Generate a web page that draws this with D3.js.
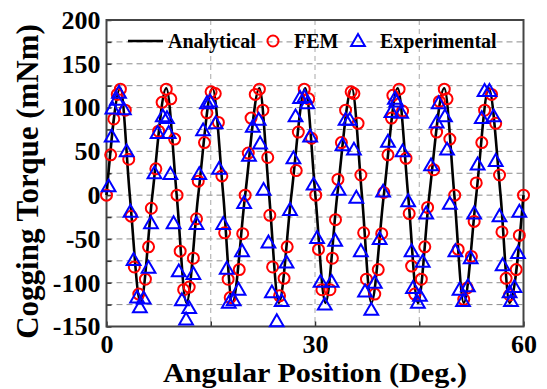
<!DOCTYPE html>
<html><head><meta charset="utf-8">
<script src="https://cdn.jsdelivr.net/npm/d3@7/dist/d3.min.js"></script>
<style>body{margin:0;background:#fff} svg text{font-family:"Liberation Serif","Times New Roman",Tinos,"DejaVu Serif",serif !important;font-weight:bold;}</style></head>
<body><svg id="c" width="547" height="389"></svg>
<script>
// ---- data ----
const xTickValues = [0, 15, 30, 45, 60];
const xTickLabels = [0, 30, 60];
const yTickValues = [-150,-125,-100,-75,-50,-25,0,25,50,75,100,125,150,175,200];
const yTickLabels = [-150,-100,-50,0,50,100,150,200];
const legendLabels = ["Analytical", "FEM", "Experimental"];

// Analytical curve: zero crossings, peaks and troughs [deg, mNm]
const analytical = [
  [0,0],[2.0,122],[3.35,0],[4.9,-123],[6.6,0],[8.6,122],[10.1,0],[11.5,-123],[13.2,0],
  [15.25,122],[16.8,0],[18.1,-123],[19.95,0],[22.0,122],[23.4,0],[24.8,-123],[26.6,0],
  [28.6,122],[30.05,0],[31.5,-123],[33.2,0],[35.3,122],[36.75,0],[38.1,-123],[39.9,0],
  [41.9,122],[43.4,0],[44.8,-123],[46.45,0],[48.6,122],[50.05,0],[51.4,-123],[53.2,0],
  [55.0,122],[56.7,0],[58.0,-123],[60,0]
];

// FEM points [deg, mNm]
const fem = [
  [0,0],[0.6,46],[1.05,87],[1.55,115],[2.0,121],[2.7,97],[3.2,41],[3.55,-24],[4.0,-82],[4.65,-113],
  [5.6,-96],[6.05,-59],[6.45,-15],[7.1,30],[7.5,73],[8.0,106],[8.6,121],[9.25,110],[9.8,64],[10.15,0],
  [10.6,-64],[11.1,-108],[11.9,-105],[12.5,-72],[12.95,-27],[13.2,16],[14.1,60],[14.45,94],[15.05,118],
  [15.65,116],[16.1,83],[16.6,22],[17.0,-43],[17.5,-96],[17.8,-117],[19.1,-85],[19.6,-44],[19.95,0],
  [20.4,48],[20.8,88],[21.4,115],[22.0,121],[22.5,97],[23.2,43],[23.5,-23],[23.9,-82],[24.9,-115],
  [25.55,-95],[26.0,-59],[27.3,28],[27.6,72],[28.45,121],[29.1,110],[29.5,65],[30.1,0],[30.5,-62],
  [31.0,-108],[32.15,-108],[32.5,-72],[32.95,-28],[33.3,18],[33.8,60],[34.4,97],[35.2,118],[35.6,116],
  [36.2,82],[36.6,23],[37.0,-43],[37.4,-96],[38.6,-113],[39.1,-85],[39.6,-44],[39.9,3],[40.5,46],
  [41.0,88],[41.2,114],[42.1,121],[42.6,96],[43.1,42],[43.55,-21],[43.9,-81],[44.35,-113],[45.3,-96],
  [45.8,-59],[46.2,-14],[47.1,29],[47.5,72],[47.9,107],[48.6,121],[49.0,110],[49.4,64],[50.1,0],
  [50.6,-62],[51.4,-119],[51.9,-106],[52.5,-70],[52.9,-30],[53.2,14],[54.0,60],[54.4,97],[55.4,115],
  [56.0,82],[56.55,23],[56.9,-42],[57.5,-95],[58.0,-114],[58.95,-85],[59.4,-46],[60,0]
];

// Experimental points [deg, mNm]
const experimental = [
  [0.3,10],[0.75,67],[0.85,99],[1.5,109],[1.8,117],[2.5,98],[2.9,50],[3.45,-19],[3.9,-74],[4.4,-117],
  [4.8,-128],[5.35,-118],[6.05,-83],[6.4,-32],[6.9,25],[7.35,71],[8.1,90],[8.7,88],[8.95,71],[9.2,24],
  [9.65,-32],[10.4,-87],[10.85,-120],[11.45,-142],[11.9,-129],[12.5,-90],[12.95,-33],[13.35,24],
  [13.9,74],[14.45,105],[14.9,107],[15.7,82],[16.2,30],[16.8,-33],[17.3,-84],[17.6,-123],[18.3,-120],
  [19.0,-108],[19.5,-64],[19.8,-9],[20.5,45],[21.05,78],[21.9,86],[22.1,59],[22.6,6],[23.3,-54],
  [23.8,-111],[24.5,-144],[25.2,-121],[25.9,-77],[26.4,-17],[26.9,42],[27.2,90],[27.85,111],[28.5,112],
  [28.9,105],[29.3,67],[29.8,12],[30.3,-49],[30.8,-99],[31.4,-125],[32.4,-99],[32.9,-52],[33.4,6],
  [33.95,57],[34.4,86],[35.0,86],[35.6,52],[35.95,-3],[36.6,-64],[37.2,-110],[38.1,-131],[38.6,-100],
  [39.3,-50],[39.8,4],[40.5,61],[41.0,95],[41.5,110],[41.7,107],[42.4,94],[42.6,50],[43.4,-7],
  [43.9,-64],[44.1,-106],[44.8,-123],[45.1,-115],[45.5,-76],[46.0,-21],[46.7,34],[47.5,83],[47.8,105],
  [48.7,90],[49.0,52],[49.4,-10],[50.2,-64],[50.8,-108],[51.3,-121],[52.0,-104],[52.4,-72],[52.9,-21],
  [53.4,35],[54.0,88],[54.4,119],[55.1,119],[55.7,90],[56.0,39],[56.55,-24],[57.0,-80],[58.0,-111],
  [58.2,-121],[58.7,-105],[59.2,-66],[59.4,-19]
];

// ---- drawing ----
const svg = d3.select("#c");
const L = 106.5, R = 523.5, T = 20, B = 326.5;
const x = d3.scaleLinear().domain([0, 60]).range([L, R]);
const y = d3.scaleLinear().domain([-150, 200]).range([B, T]);

// grid
svg.append("g").selectAll("line").data(yTickValues.filter(v => v > -150 && v < 200)).join("line")
  .attr("x1", L).attr("x2", R).attr("y1", d => y(d)).attr("y2", d => y(d))
  .attr("stroke", "#8c8c8c").attr("stroke-width", 1).attr("stroke-dasharray", "6,4");
svg.append("g").selectAll("line").data(xTickValues.filter(v => v > 0 && v < 60)).join("line")
  .attr("y1", T).attr("y2", B).attr("x1", d => x(d)).attr("x2", d => x(d))
  .attr("stroke", "#a8a8a8").attr("stroke-width", 1).attr("stroke-dasharray", "5,4");

// axes
const yAxis = d3.axisLeft(y).tickValues(yTickValues).tickSize(-5).tickPadding(6)
  .tickFormat(d => yTickLabels.includes(d) ? d : "");
const gy = svg.append("g").attr("transform", `translate(${L},0)`).call(yAxis);
const xAxis = d3.axisBottom(x).tickValues(xTickValues).tickSize(-5).tickPadding(8)
  .tickFormat(d => xTickLabels.includes(d) ? d : "");
const gx = svg.append("g").attr("transform", `translate(0,${B})`).call(xAxis);
[gx, gy].forEach(g => {
  g.select(".domain").remove();
  g.selectAll(".tick line").attr("stroke", "#333").attr("stroke-width", 1.5);
  g.selectAll(".tick text").attr("font-size", 26).attr("fill", "#000");
});

// frame
svg.append("rect").attr("x", L).attr("y", T).attr("width", R - L).attr("height", B - T)
  .attr("fill", "none").attr("stroke", "#444").attr("stroke-width", 2);

// analytical line
const line = d3.line().x(d => x(d[0])).y(d => y(d[1])).curve(d3.curveMonotoneX);
svg.append("path").datum(analytical).attr("d", line)
  .attr("fill", "none").attr("stroke", "#000").attr("stroke-width", 2.6);

// markers
const tri = d3.symbol().type(d3.symbolTriangle).size(82);
svg.append("g").selectAll("circle").data(fem).join("circle")
  .attr("cx", d => x(d[0])).attr("cy", d => y(d[1])).attr("r", 5.5)
  .attr("fill", "none").attr("stroke", "#ff0000").attr("stroke-width", 2);
svg.append("g").selectAll("path").data(experimental).join("path")
  .attr("d", tri).attr("transform", d => `translate(${x(d[0])},${y(d[1]) + 1})`)
  .attr("fill", "none").attr("stroke", "#0000ff").attr("stroke-width", 2);

// legend
const ly = 41;
const lg = svg.append("g").attr("font-size", 20);
lg.append("line").attr("x1", 128).attr("x2", 163).attr("y1", ly).attr("y2", ly)
  .attr("stroke", "#000").attr("stroke-width", 2.6);
lg.append("text").attr("x", 168).attr("y", ly + 6.5).text(legendLabels[0]);
lg.append("circle").attr("cx", 273).attr("cy", ly).attr("r", 5.5)
  .attr("fill", "none").attr("stroke", "#ff0000").attr("stroke-width", 2);
lg.append("text").attr("x", 294).attr("y", ly + 6.5).text(legendLabels[1]);
lg.append("path").attr("d", tri).attr("transform", `translate(358,${ly + 1})`)
  .attr("fill", "none").attr("stroke", "#0000ff").attr("stroke-width", 2);
lg.append("text").attr("x", 380).attr("y", ly + 6.5).text(legendLabels[2]);

// axis titles
svg.append("text").attr("x", 315).attr("y", 382).attr("text-anchor", "middle")
  .attr("font-size", 27).attr("textLength", 304).attr("lengthAdjust", "spacingAndGlyphs")
  .text("Angular Position (Deg.)");
svg.append("text").attr("transform", `translate(38,${(18 + 345) / 2}) rotate(-90)`)
  .attr("text-anchor", "middle").attr("font-size", 31)
  .text("Cogging Torque (mNm)");
</script></body></html>
